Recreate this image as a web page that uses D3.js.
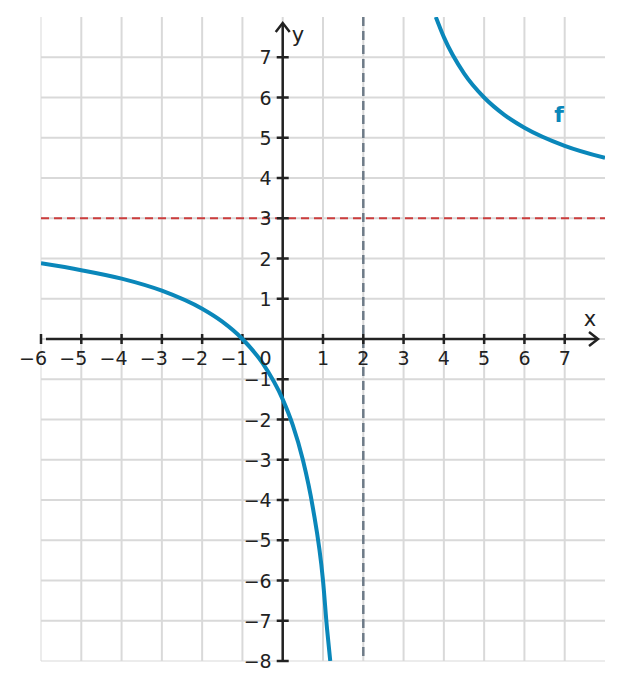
<!DOCTYPE html>
<html>
<head>
<meta charset="utf-8">
<script src="https://cdn.jsdelivr.net/npm/d3@7"></script>
<style>
	body { margin: 0; background: #fff; }
	svg { display: block; font-family: 'DejaVu Sans', sans-serif; }
</style>
</head>
<body>
<svg id="chart"></svg>
<script>
// points, left and right branch
let leftX	= [-6, -5, -4, -3, -2, -1.5, -1, -0.5, 0, 0.25, 0.5, 0.75, 1, 1.1, 1.18];
let leftY	= [1.88, 1.71, 1.5, 1.2, 0.75, 0.43, 0, -0.6, -1.5, -2.14, -3, -4.2, -6, -7.2, -8];
let rightX	= [3.8, 4, 4.5, 5, 5.5, 6, 7, 8];
let rightY	= [8, 7.5, 6.6, 6, 5.57, 5.25, 4.8, 4.5];

let asymX	= 2;
let asymY	= 3;
let xTicks	= [-6, -5, -4, -3, -2, -1, 1, 2, 3, 4, 5, 6, 7];
let yTicks	= [-8, -7, -6, -5, -4, -3, -2, -1, 1, 2, 3, 4, 5, 6, 7];

let canvasWidth		= 622;
let canvasHeight	= 689;

let x = d3.scaleLinear().domain([-6, 8]).range([41, 605]);
let y = d3.scaleLinear().domain([-8, 8]).range([661, 17]);

let svg = d3.select('#chart')
	.attr('width', canvasWidth)
	.attr('height', canvasHeight);

// grid: no line on the top / right edge, thin lines on left / bottom edge
let grid = svg.append('g').attr('stroke', '#d9d9d9');
grid.selectAll('.gx').data(d3.range(-6, 8)).enter()
	.append('line')
		.attr('x1', (d) => x(d)).attr('x2', (d) => x(d))
		.attr('y1', y(8)).attr('y2', y(-8))
		.attr('stroke-width', (d) => d === -6 ? 1 : 2);
grid.selectAll('.gy').data(d3.range(-8, 8)).enter()
	.append('line')
		.attr('x1', x(-6)).attr('x2', x(8))
		.attr('y1', (d) => y(d)).attr('y2', (d) => y(d))
		.attr('stroke-width', (d) => d === -8 ? 1 : 2);

// asymptotes
svg.append('line')
	.attr('x1', x(-6)).attr('x2', x(8))
	.attr('y1', y(asymY)).attr('y2', y(asymY))
	.attr('stroke', '#cc3d3d').attr('stroke-width', 2)
	.attr('stroke-dasharray', '8,5');
svg.append('line')
	.attr('x1', x(asymX)).attr('x2', x(asymX))
	.attr('y1', y(8)).attr('y2', y(-8))
	.attr('stroke', '#6e7b88').attr('stroke-width', 2.5)
	.attr('stroke-dasharray', '9,5');

// axes
let axis = svg.append('g').attr('stroke', '#222').attr('stroke-width', 2.5).attr('fill', 'none');
axis.append('line').attr('x1', x(-6) + 5).attr('x2', 597).attr('y1', y(0)).attr('y2', y(0));
axis.append('path').attr('d', 'M589,' + (y(0) - 7) + 'L598,' + y(0) + 'L589,' + (y(0) + 7));
axis.append('line').attr('x1', x(0)).attr('x2', x(0)).attr('y1', y(-8)).attr('y2', 24);
axis.append('path').attr('d', 'M' + (x(0) - 7) + ',32L' + x(0) + ',23L' + (x(0) + 7) + ',32');

axis.selectAll('.tx').data(xTicks).enter()
	.append('line')
		.attr('x1', (d) => x(d)).attr('x2', (d) => x(d))
		.attr('y1', y(0) - 5).attr('y2', y(0) + 5);
axis.selectAll('.ty').data(yTicks).enter()
	.append('line')
		.attr('x1', x(0) - 6).attr('x2', x(0) + 6)
		.attr('y1', (d) => y(d)).attr('y2', (d) => y(d));

// curve
let lineFunc = d3.line().x((o) => x(o[0])).y((o) => y(o[1])).curve(d3.curveMonotoneX);
svg.append('clipPath').attr('id', 'plot-clip')
	.append('rect').attr('x', x(-6)).attr('y', y(8)).attr('width', x(8) - x(-6)).attr('height', y(-8) - y(8));
let curves = svg.append('g').attr('clip-path', 'url(#plot-clip)');
[[leftX, leftY], [rightX, rightY]].forEach((b) => {
	curves.append('path')
		.attr('d', lineFunc(d3.zip(b[0], b[1])))
		.attr('fill', 'none')
		.attr('stroke', '#0a87ba')
		.attr('stroke-width', 4);
});

// labels
let labels = svg.append('g').attr('fill', '#222').attr('font-size', 19);
labels.selectAll('.lx').data(xTicks).enter()
	.append('text')
		.attr('x', (d) => d < 0 ? x(d) + 6 : x(d))
		.attr('y', y(0) + 26)
		.attr('text-anchor', (d) => d < 0 ? 'end' : 'middle')
		.text((d) => String(d).replace('-', '\u2212'));
labels.selectAll('.ly').data(yTicks).enter()
	.append('text')
		.attr('x', x(0) - 11)
		.attr('y', (d) => y(d) + 7)
		.attr('text-anchor', 'end')
		.text((d) => String(d).replace('-', '\u2212'));
labels.append('text')
	.attr('x', x(0) - 11).attr('y', y(0) + 26)
	.attr('text-anchor', 'end')
	.text('0');

svg.append('text').attr('x', 590).attr('y', 326).attr('text-anchor', 'middle')
	.attr('font-size', 21).attr('fill', '#222').text('x');
svg.append('text').attr('x', 298).attr('y', 42).attr('text-anchor', 'middle')
	.attr('font-size', 21).attr('fill', '#222').text('y');
svg.append('text').attr('x', 559).attr('y', 122).attr('text-anchor', 'middle')
	.attr('font-size', 22).attr('font-weight', 'bold').attr('fill', '#0a87ba').text('f');
</script>
</body>
</html>
